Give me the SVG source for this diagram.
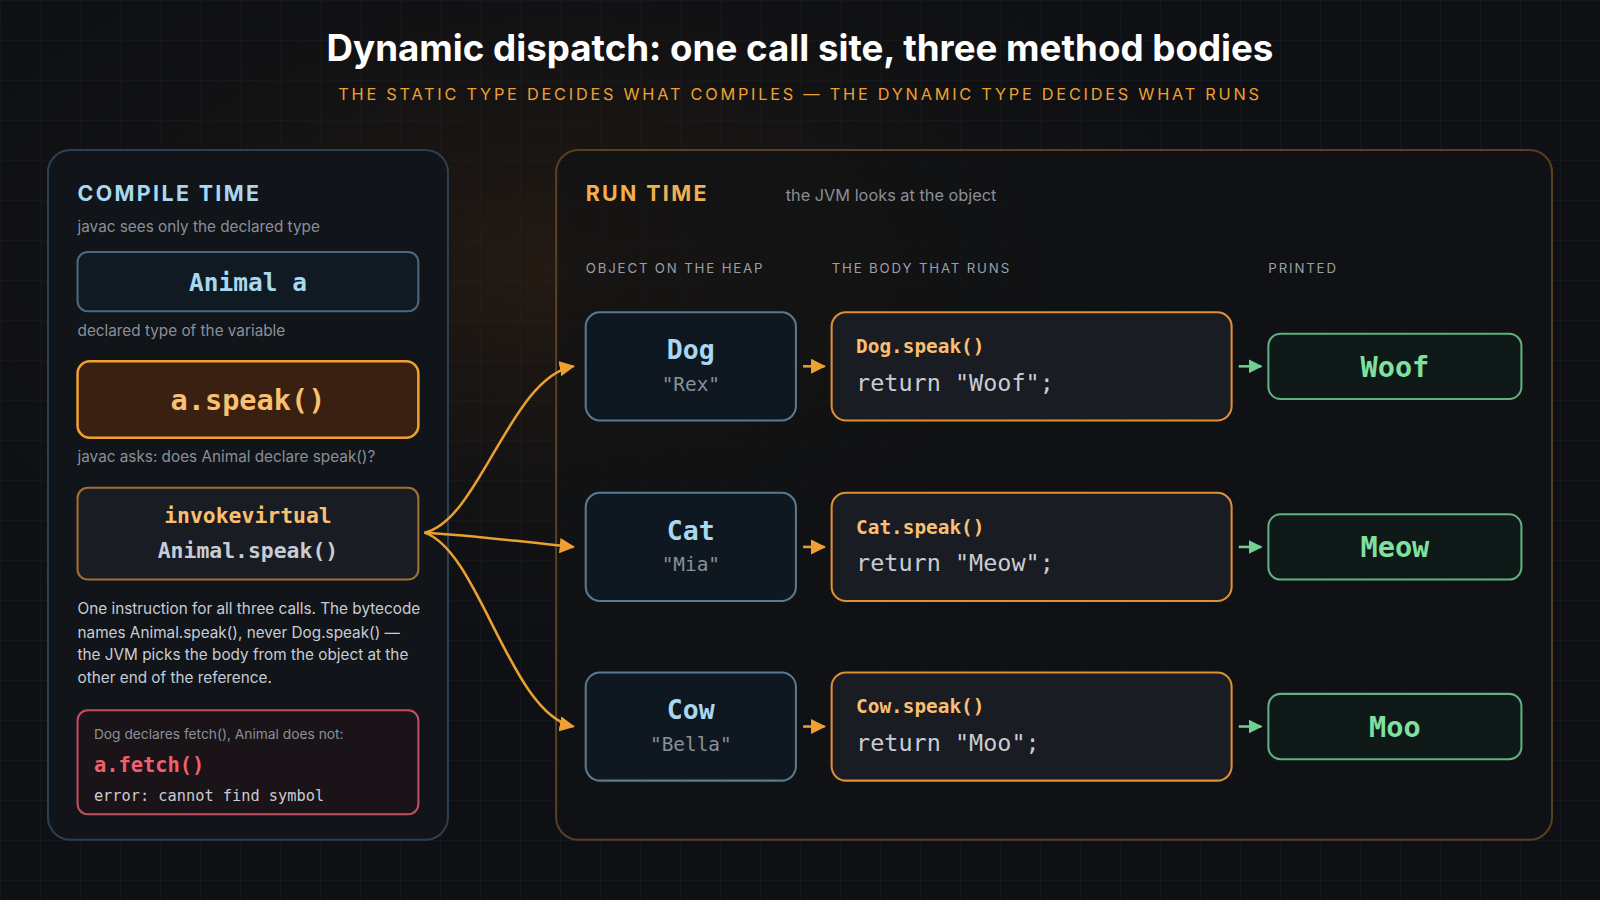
<svg xmlns="http://www.w3.org/2000/svg" width="1600" height="900" viewBox="0 0 1600 900">
<defs>
<pattern id="grid" width="40" height="40" patternUnits="userSpaceOnUse"><path d="M40 0H0V40" fill="none" stroke="#1a1e24" stroke-width="1"/></pattern>
<radialGradient id="glow" cx="0.35" cy="0.3" r="0.5"><stop offset="0" stop-color="#3a2410" stop-opacity="0.5"/><stop offset="1" stop-color="#0e1014" stop-opacity="0"/></radialGradient>
<marker id="ao" viewBox="0 0 10 10" refX="9" refY="5" markerWidth="6" markerHeight="6" orient="auto"><path d="M0 0L10 5L0 10Z" fill="#f0a030"/></marker>
<marker id="ag" viewBox="0 0 10 10" refX="9" refY="5" markerWidth="5.5" markerHeight="5.5" orient="auto"><path d="M0 0L10 5L0 10Z" fill="#70d090"/></marker>
</defs>
<style>
.sans{font-family:"Inter","Liberation Sans",sans-serif}
.mono{font-family:"DejaVu Sans Mono","Liberation Mono",monospace}
.note{font-family:"Inter","Liberation Sans",sans-serif;font-size:15px;fill:#8a9099}
.hdr{font-family:"Inter","Liberation Sans",sans-serif;font-size:13px;fill:#9aa0a8;letter-spacing:1.8px}
.obj{fill:#0f1820;stroke:#5a7a90;stroke-width:2}
.objn{font-family:"DejaVu Sans Mono",monospace;font-weight:bold;font-size:26px;fill:#a8d8f0;text-anchor:middle}
.objv{font-family:"DejaVu Sans Mono",monospace;font-size:19px;fill:#8a9099;text-anchor:middle}
.body{fill:#1a1c24;stroke:#e09030;stroke-width:2}
.bh{font-family:"DejaVu Sans Mono",monospace;font-weight:bold;font-size:19px;fill:#f8c070}
.br{font-family:"DejaVu Sans Mono",monospace;font-size:23px;fill:#c8ccd4}
.out{fill:#0f1a18;stroke:#60b080;stroke-width:2}
.outt{font-family:"DejaVu Sans Mono",monospace;font-weight:bold;font-size:28px;fill:#80e0a0;text-anchor:middle}
.co{fill:none;stroke:#e8a030;stroke-width:2.5}
.cg{fill:none;stroke:#70d090;stroke-width:2.5}
</style>
<rect width="1600" height="900" fill="#0e1014"/>
<rect width="1600" height="900" fill="url(#grid)"/>
<rect width="1600" height="900" fill="url(#glow)"/>
<g transform="scale(1.0204)">
<g id="title">
<text x="784" y="60" text-anchor="middle" class="sans" font-weight="bold" font-size="36" fill="#ffffff">Dynamic dispatch: one call site, three method bodies</text>
<text x="784" y="98" text-anchor="middle" class="sans" font-size="16" fill="#f0a030" letter-spacing="2.7">THE STATIC TYPE DECIDES WHAT COMPILES — THE DYNAMIC TYPE DECIDES WHAT RUNS</text>
</g>
<g id="compile-panel">
<rect x="47" y="147" width="392" height="676" rx="22" fill="#111418" stroke="#2e4050" stroke-width="2"/>
<text x="76" y="197" class="sans" font-weight="bold" font-size="21" fill="#a8d8f0" letter-spacing="2.3">COMPILE TIME</text>
<text x="76" y="227" class="note">javac sees only the declared type</text>
</g>
<g id="animal-a">
<rect x="76" y="247" width="334" height="58" rx="10" fill="#0f1a22" stroke="#4a6a80" stroke-width="2"/>
<text x="243" y="285" text-anchor="middle" class="mono" font-weight="bold" font-size="24" fill="#a8d8f0">Animal a</text>
<text x="76" y="329" class="note">declared type of the variable</text>
</g>
<g id="a-speak">
<rect x="76" y="354" width="334" height="75" rx="12" fill="#3a2010" stroke="#f0a030" stroke-width="2.5"/>
<text x="243" y="402" text-anchor="middle" class="mono" font-weight="bold" font-size="28" fill="#f8c070">a.speak()</text>
<text x="76" y="453" class="note">javac asks: does Animal declare speak()?</text>
</g>
<g id="invokevirtual">
<rect x="76" y="478" width="334" height="90" rx="10" fill="#1a1c24" stroke="#a07030" stroke-width="2"/>
<text x="243" y="513" text-anchor="middle" class="mono" font-weight="bold" font-size="21" fill="#f8c070">invokevirtual</text>
<text x="243" y="547" text-anchor="middle" class="mono" font-weight="bold" font-size="21" fill="#c8ccd4">Animal.speak()</text>
</g>
<g id="explain" class="sans" font-size="15" fill="#c8ccd4">
<text x="76" y="602">One instruction for all three calls. The bytecode</text>
<text x="76" y="625">names Animal.speak(), never Dog.speak() —</text>
<text x="76" y="647">the JVM picks the body from the object at the</text>
<text x="76" y="669">other end of the reference.</text>
</g>
<g id="error">
<rect x="76" y="696" width="334" height="102" rx="10" fill="#1a1418" stroke="#c05060" stroke-width="2"/>
<text x="92" y="724" class="sans" font-size="13.5" fill="#8a9099">Dog declares fetch(), Animal does not:</text>
<text x="92" y="757" class="mono" font-weight="bold" font-size="20" fill="#f06070">a.fetch()</text>
<text x="92" y="785" class="mono" font-size="15" fill="#c8ccd4">error: cannot find symbol</text>
</g>
<g id="run-panel">
<rect x="545" y="147" width="976" height="676" rx="22" fill="#111214" fill-opacity="0.6" stroke="#5a4020" stroke-width="2"/>
<text x="574" y="197" class="sans" font-weight="bold" font-size="21" fill="#f0b050" letter-spacing="2.3">RUN TIME</text>
<text x="770" y="197" class="sans" font-size="16" fill="#8a9099">the JVM looks at the object</text>
<text x="574" y="268" class="hdr">OBJECT ON THE HEAP</text>
<text x="815" y="268" class="hdr">THE BODY THAT RUNS</text>
<text x="1243" y="268" class="hdr">PRINTED</text>
</g>
<g id="connectors">
<path class="co" d="M416 522C470 510 500 370 562 359" marker-end="url(#ao)"/>
<path class="co" d="M416 522C470 525 500 530 562 536" marker-end="url(#ao)"/>
<path class="co" d="M416 522C470 540 500 700 562 712" marker-end="url(#ao)"/>
<path class="co" d="M787 359H808" marker-end="url(#ao)"/>
<path class="co" d="M787 536H808" marker-end="url(#ao)"/>
<path class="co" d="M787 712H808" marker-end="url(#ao)"/>
<path class="cg" d="M1214 359H1236" marker-end="url(#ag)"/>
<path class="cg" d="M1214 536H1236" marker-end="url(#ag)"/>
<path class="cg" d="M1214 712H1236" marker-end="url(#ag)"/>
</g>
<g id="dog"><rect class="obj" x="574" y="306" width="206" height="106" rx="14"/><text class="objn" x="677" y="352">Dog</text><text class="objv" x="677" y="383">"Rex"</text></g>
<g id="cat"><rect class="obj" x="574" y="483" width="206" height="106" rx="14"/><text class="objn" x="677" y="529">Cat</text><text class="objv" x="677" y="560">"Mia"</text></g>
<g id="cow"><rect class="obj" x="574" y="659" width="206" height="106" rx="14"/><text class="objn" x="677" y="705">Cow</text><text class="objv" x="677" y="736">"Bella"</text></g>
<g id="dog-speak"><rect class="body" x="815" y="306" width="392" height="106" rx="14"/><text class="bh" x="839" y="346">Dog.speak()</text><text class="br" x="839" y="383">return "Woof";</text></g>
<g id="cat-speak"><rect class="body" x="815" y="483" width="392" height="106" rx="14"/><text class="bh" x="839" y="523">Cat.speak()</text><text class="br" x="839" y="560">return "Meow";</text></g>
<g id="cow-speak"><rect class="body" x="815" y="659" width="392" height="106" rx="14"/><text class="bh" x="839" y="699">Cow.speak()</text><text class="br" x="839" y="736">return "Moo";</text></g>
<g id="woof"><rect class="out" x="1243" y="327" width="248" height="64" rx="12"/><text class="outt" x="1367" y="369">Woof</text></g>
<g id="meow"><rect class="out" x="1243" y="504" width="248" height="64" rx="12"/><text class="outt" x="1367" y="546">Meow</text></g>
<g id="moo"><rect class="out" x="1243" y="680" width="248" height="64" rx="12"/><text class="outt" x="1367" y="722">Moo</text></g>
</g>
</svg>
